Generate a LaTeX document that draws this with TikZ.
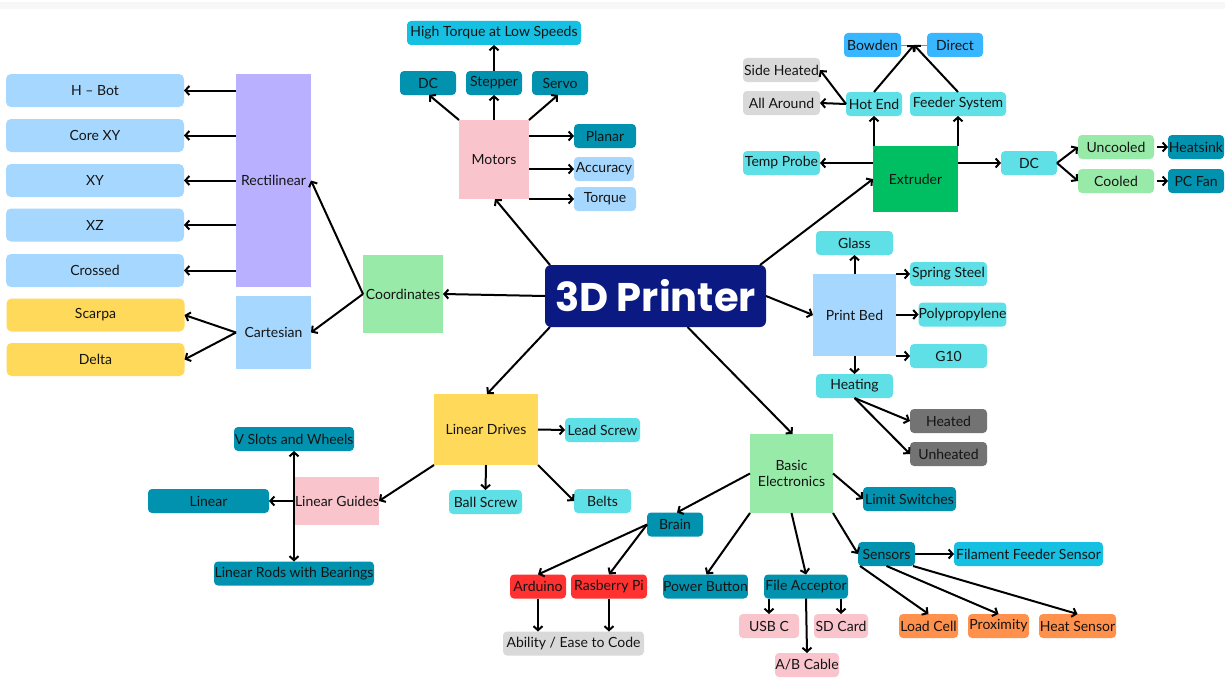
\documentclass[tikz,border=0pt]{standalone}
\usepackage{fontspec}
\setmainfont{Lato}
\newfontfamily\titlefont{Poppins}
\usetikzlibrary{arrows.meta,calc}

\definecolor{cLBlue}{RGB}{166,216,255}
\definecolor{cPurple}{RGB}{185,176,255}
\definecolor{cYellow}{RGB}{255,217,90}
\definecolor{cLGreen}{RGB}{152,234,168}
\definecolor{cPink}{RGB}{249,196,204}
\definecolor{cTeal}{RGB}{0,146,174}
\definecolor{cCyan}{RGB}{22,192,226}
\definecolor{cLCyan}{RGB}{94,224,230}
\definecolor{cGreen}{RGB}{0,191,99}
\definecolor{cBlue}{RGB}{56,182,255}
\definecolor{cLGray}{RGB}{217,217,217}
\definecolor{cDGray}{RGB}{115,115,115}
\definecolor{cRed}{RGB}{255,49,49}
\definecolor{cOrange}{RGB}{255,145,77}
\definecolor{cNavy}{RGB}{10,26,130}
\definecolor{txt}{RGB}{20,20,20}

\begin{document}
\begin{tikzpicture}[x=1pt,y=-1pt,
  every node/.style={font=\fontsize{14}{16}\selectfont, text=txt, inner sep=0pt, outer sep=0pt},
  tag/.style={rounded corners=4pt, minimum height=24pt},
  pad/.style={rounded corners=5pt, minimum width=178pt, minimum height=33pt},
  blk/.style={align=center},
  arr/.style={draw=black, line width=2pt, -{Straight Barb[length=4pt,width=9pt]}},
]
% canvas and top band
\fill[white] (0,0) rectangle (1225,677);
\fill[black!3] (0,2) rectangle (1225,9);
\useasboundingbox (0,0) rectangle (1225,677);

% ---------- centre ----------
\node[fill=cNavy, rounded corners=6pt, minimum width=221pt, minimum height=62pt,
      font=\titlefont\bfseries\fontsize{40}{40}\selectfont, text=white] (P) at (655.5,296) {3D Printer};

% ---------- coordinates ----------
\node[pad, fill=cLBlue] (hbot) at (95,90.5) {H – Bot};
\node[pad, fill=cLBlue] (corexy) at (95,135.5) {Core XY};
\node[pad, fill=cLBlue] (xy) at (95,180.5) {XY};
\node[pad, fill=cLBlue] (xz) at (95,225) {XZ};
\node[pad, fill=cLBlue] (crossed) at (95,270.5) {Crossed};
\node[pad, fill=cYellow] (scarpa) at (95.5,315) {Scarpa};
\node[pad, fill=cYellow] (delta) at (95.5,359.5) {Delta};
\node[blk, fill=cPurple, minimum width=75pt, minimum height=213pt] (rect) at (273.5,180.5) {Rectilinear};
\node[blk, fill=cLBlue, minimum width=75pt, minimum height=73pt] (cart) at (273.5,332.5) {Cartesian};
\node[blk, fill=cLGreen, minimum width=80pt, minimum height=78pt] (coord) at (403,294) {Coordinates};

% ---------- motors ----------
\node[blk, fill=cPink, minimum width=70pt, minimum height=79pt] (motors) at (494,159.5) {Motors};
\node[tag, fill=cTeal, minimum width=56pt] (mdc) at (428,83) {DC};
\node[tag, fill=cTeal, minimum width=56pt] (stepper) at (494,83) {Stepper};
\node[tag, fill=cTeal, minimum width=56pt] (servo) at (560,83) {Servo};
\node[tag, fill=cCyan, minimum width=174pt] (htls) at (494,33) {High Torque at Low Speeds};
\node[tag, fill=cTeal, minimum width=62pt] (planar) at (605,136) {Planar};
\node[tag, fill=cLBlue, minimum width=60pt] (accuracy) at (604,169) {Accuracy};
\node[tag, fill=cLBlue, minimum width=62pt] (torque) at (605,199) {Torque};

% ---------- extruder ----------
\node[blk, fill=cGreen, minimum width=85pt, minimum height=66pt] (extr) at (915.5,179) {Extruder};
\node[tag, fill=cLCyan, minimum width=56pt] (hotend) at (874,104) {Hot End};
\node[tag, fill=cLCyan, minimum width=96pt] (feeder) at (958,104) {Feeder System};
\node[tag, fill=cBlue, minimum width=57pt] (bowden) at (872.5,45) {Bowden};
\node[tag, fill=cBlue, minimum width=56pt] (direct) at (955,45) {Direct};
\node[tag, fill=cLGray, minimum width=77pt] (sideh) at (781.5,70) {Side Heated};
\node[tag, fill=cLGray, minimum width=77pt] (allar) at (781.5,103) {All Around};
\node[tag, fill=cLCyan, minimum width=77pt] (temp) at (781.5,163) {Temp Probe};
\node[tag, fill=cLCyan, minimum width=56pt] (edc) at (1029,163) {DC};
\node[tag, fill=cLGreen, minimum width=76pt] (uncooled) at (1116,147) {Uncooled};
\node[tag, fill=cLGreen, minimum width=76pt] (cooled) at (1116,181) {Cooled};
\node[tag, fill=cTeal, minimum width=56pt] (heatsink) at (1196,147) {Heatsink};
\node[tag, fill=cTeal, minimum width=56pt] (pcfan) at (1196,181) {PC Fan};
\coordinate (bd) at ($(bowden.east)!0.5!(direct.west)$);

% ---------- print bed ----------
\node[blk, fill=cLBlue, minimum width=83pt, minimum height=82pt] (bed) at (854.5,315) {Print Bed};
\node[tag, fill=cLCyan, minimum width=77pt] (glass) at (854.5,243) {Glass};
\node[tag, fill=cLCyan, minimum width=77pt] (spring) at (948.5,274) {Spring Steel};
\node[tag, fill=cLCyan, minimum width=87pt] (poly) at (962.5,314.5) {Polypropylene};
\node[tag, fill=cLCyan, minimum width=77pt] (g10) at (948.5,356) {G10};
\node[tag, fill=cLCyan, minimum width=77pt] (heating) at (854.5,386) {Heating};
\node[tag, fill=cDGray, minimum width=77pt] (heated) at (948.5,421) {Heated};
\node[tag, fill=cDGray, minimum width=77pt] (unheated) at (948.5,454) {Unheated};

% ---------- linear drives ----------
\node[blk, fill=cYellow, minimum width=104pt, minimum height=71pt] (ldrives) at (486,429.5) {Linear Drives};
\node[tag, fill=cLCyan, minimum width=75pt] (lead) at (602.5,430) {Lead Screw};
\node[tag, fill=cLCyan, minimum width=73pt] (ball) at (485.5,502) {Ball Screw};
\node[tag, fill=cLCyan, minimum width=57pt] (belts) at (602.5,501) {Belts};
\node[blk, fill=cPink, minimum width=84pt, minimum height=48pt] (lguides) at (337,501) {Linear Guides};
\node[tag, fill=cTeal, minimum width=120pt] (vslots) at (294,439) {V Slots and Wheels};
\node[tag, fill=cTeal, minimum width=121pt] (linear) at (208.5,501) {Linear};
\node[tag, fill=cTeal, minimum width=160pt] (rods) at (294,573.5) {Linear Rods with Bearings};

% ---------- electronics ----------
\node[blk, fill=cLGreen, minimum width=83pt, minimum height=79pt] (be) at (791.5,473.5) {Basic\\Electronics};
\node[tag, fill=cTeal, minimum width=56pt] (brain) at (675,524.5) {Brain};
\node[tag, fill=cRed, minimum width=56pt] (arduino) at (538,586.5) {Arduino};
\node[tag, fill=cRed, minimum width=76pt] (rpi) at (609,586.5) {Rasberry Pi};
\node[tag, fill=cLGray, minimum width=141pt] (ability) at (573.5,643.5) {Ability / Ease to Code};
\node[tag, fill=cTeal, minimum width=83pt] (power) at (705.5,586.5) {Power Button};
\node[tag, fill=cTeal, minimum width=84pt] (file) at (806,586.5) {File Acceptor};
\node[tag, fill=cPink, minimum width=60pt] (usbc) at (769,626) {USB C};
\node[tag, fill=cPink, minimum width=54pt] (sd) at (841,626) {SD Card};
\node[tag, fill=cPink, minimum width=64pt] (ab) at (807,665) {A/B Cable};
\node[tag, fill=cTeal, minimum width=93pt] (limit) at (909.5,499) {Limit Switches};
\node[tag, fill=cTeal, minimum width=57pt] (sensors) at (886.5,554) {Sensors};
\node[tag, fill=cCyan, minimum width=149pt] (ffs) at (1028.5,554) {Filament Feeder Sensor};
\node[tag, fill=cOrange, minimum width=59pt] (load) at (928.5,626) {Load Cell};
\node[tag, fill=cOrange, minimum width=61pt] (prox) at (998.5,626) {Proximity};
\node[tag, fill=cOrange, minimum width=77pt] (heatsens) at (1077.5,626) {Heat Sensor};

% ---------- connectors: coordinates ----------
\foreach \n in {hbot,corexy,xy,xz,crossed}
  \draw[arr] (rect.west |- \n.east) -- (\n.east);
\draw[arr] (coord.west) -- (rect.east);
\draw[arr] (coord.west) -- (cart.east);
\draw[arr] (cart.west) -- (scarpa.east);
\draw[arr] (cart.west) -- (delta.east);
\draw[arr] (P.west) -- (coord.east);

% ---------- connectors: motors ----------
\draw[arr] ([xshift=5pt]P.north west) -- ([xshift=1pt]motors.south);
\draw[arr] (motors.north west) -- ([xshift=1pt]mdc.south);
\draw[arr] (motors.north) -- (stepper.south);
\draw[arr] (motors.north east) -- ([xshift=-2pt]servo.south);
\draw[arr] (stepper.north) -- (htls.south);
\foreach \n in {planar,accuracy,torque}
  \draw[arr] (motors.east |- \n.west) -- (\n.west);

% ---------- connectors: extruder ----------
\draw[arr] ([xshift=-6pt]P.north east) -- (extr.west);
\draw[arr] (hotend.south |- extr.north) -- (hotend.south);
\draw[arr] (feeder.south |- extr.north) -- (feeder.south);
\draw[black!45, line width=0.8pt] (bowden.east) -- (direct.west);
\draw[arr] (hotend.north) -- (bd);
\draw[arr] (feeder.north) -- (bd);
\draw[arr] (hotend.west) -- (sideh.east);
\draw[arr] (hotend.west) -- (allar.east);
\draw[arr] (extr.west |- temp.east) -- (temp.east);
\draw[arr] (extr.east |- edc.west) -- (edc.west);
\draw[arr] (edc.east) -- (uncooled.west);
\draw[arr] (edc.east) -- (cooled.west);
\draw[arr] ([xshift=3pt]uncooled.east) -- (heatsink.west);
\draw[arr] ([xshift=3pt]cooled.east) -- (pcfan.west);

% ---------- connectors: print bed ----------
\draw[arr] (P.east) -- (bed.west);
\draw[arr] (bed.north) -- (glass.south);
\draw[arr] (bed.north east) -- (spring.west);
\draw[arr] (bed.east |- poly.west) -- (poly.west);
\draw[arr] (bed.south east) -- (g10.west);
\draw[arr] (bed.south) -- (heating.north);
\draw[arr] (heating.south) -- (heated.west);
\draw[arr] (heating.south) -- (unheated.west);

% ---------- connectors: linear drives ----------
\draw[arr] ([xshift=5pt]P.south west) -- ([xshift=1pt]ldrives.north);
\draw[arr] (ldrives.east) -- (lead.west);
\draw[arr] (ldrives.south) -- (ball.north);
\draw[arr] (ldrives.south east) -- (belts.west);
\draw[arr] (ldrives.south west) -- (lguides.east);
\draw[arr] (vslots.south |- lguides.west) -- (vslots.south);
\draw[arr] (vslots.south |- lguides.west) -- (rods.north);
\draw[arr] (lguides.west) -- (linear.east);

% ---------- connectors: electronics ----------
\draw[arr] ([xshift=32pt]P.south) -- ([xshift=1pt]be.north);
\draw[arr] (be.west) -- ([xshift=2pt]brain.north);
\draw[arr] (brain.west) -- (arduino.north);
\draw[arr] (brain.west) -- (rpi.north);
\draw[arr] (arduino.south) -- (arduino.south |- ability.north);
\draw[arr] (rpi.south) -- (rpi.south |- ability.north);
\draw[arr] (be.south west) -- ([xshift=1pt]power.north);
\draw[arr] (be.south) -- (file.north);
\draw[arr] (usbc.north |- file.south) -- (usbc.north);
\draw[arr] (sd.north |- file.south) -- (sd.north);
\draw[arr] (file.south) -- (ab.north);
\draw[arr] (be.east) -- (limit.west);
\draw[arr] (be.south east) -- (sensors.west);
\draw[arr] (sensors.east) -- (ffs.west);
\draw[arr] ([xshift=2pt]sensors.south west) -- (load.north);
\draw[arr] (sensors.south) -- (prox.north);
\draw[arr] ([xshift=-2pt]sensors.south east) -- (heatsens.north);
\end{tikzpicture}
\end{document}
